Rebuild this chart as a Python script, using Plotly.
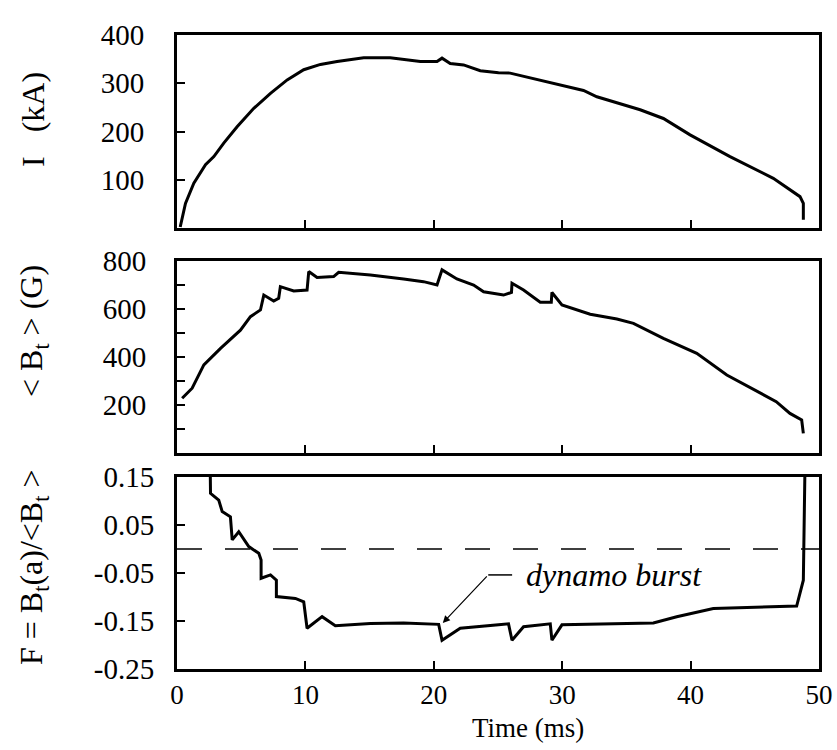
import plotly.graph_objects as go

# ---- data ----
t_I = [0.25, 0.45, 0.66, 1.31, 2.22, 2.87, 3.64, 4.68, 5.98, 7.28, 8.58, 9.87, 11.17, 12.47,
       14.54, 16.6, 17.65, 18.95, 20.25, 20.64, 21.28, 22.32, 23.62, 25.04, 25.95, 28.29,
       30.5, 31.66, 32.7, 36.07, 37.88, 39.96, 43.07, 46.44, 48.52, 48.78, 48.78]
I_kA = [2, 30, 51, 93, 131, 148, 176, 210, 248, 279, 307, 328, 339, 345,
        353, 353, 350, 345, 345, 352, 341, 338, 326, 322, 321, 306,
        292, 285, 272, 245, 227, 193, 148, 103, 65, 51, 17]

t_B = [0.4, 1.18, 2.09, 3.39, 4.94, 5.72, 6.5, 6.76, 7.53, 7.92, 8.05, 9.09, 10.13, 10.26,
       10.91, 12.2, 12.59, 15.06, 17.65, 19.2, 20.25, 20.64, 21.8, 23.1, 23.88, 25.43,
       26.05, 26.09, 26.99, 28.29, 29.15, 29.2, 29.98, 32.18, 34.26, 35.55, 37.88, 40.48,
       42.82, 46.67, 47.74, 48.65, 48.78]
Bt_G = [228, 270, 367, 436, 512, 568, 596, 658, 633, 645, 693, 675, 679, 756,
        731, 735, 753, 742, 725, 714, 700, 763, 725, 700, 672, 658,
        669, 707, 679, 628, 628, 669, 617, 578, 558, 540, 478, 415,
        325, 214, 165, 138, 82]

t_F = [2.55, 2.61, 3.25, 3.52, 4.16, 4.3, 4.81, 5.59, 6.37, 6.55, 6.55, 7.28, 7.74, 7.74,
       9.22, 9.87, 10.13, 11.3, 12.33, 15.06, 17.65, 20.38, 20.64, 22.06, 25.04, 25.82,
       26.09, 26.99, 29.07, 29.2, 29.98, 37.1, 38.92, 41.77, 48.26, 48.52, 48.78, 48.95]
F_val = [0.25, 0.116, 0.102, 0.078, 0.067, 0.019, 0.036, 0.005, -0.009, -0.023, -0.061, -0.054, -0.065, -0.099,
         -0.103, -0.11, -0.165, -0.141, -0.16, -0.155, -0.154, -0.157, -0.19, -0.165, -0.158, -0.156,
         -0.19, -0.162, -0.156, -0.19, -0.158, -0.154, -0.141, -0.124, -0.119, -0.092, -0.065, 0.25]

x_ticks = [0, 10, 20, 30, 40, 50]
I_ticks = [100, 200, 300, 400]
B_ticks = [200, 400, 600, 800]
F_ticks = [0.15, 0.05, -0.05, -0.15, -0.25]
F_ticktext = ["0.15", "0.05", "-0.05", "-0.15", "-0.25"]

FONT = "Liberation Serif"
W, H = 837, 750
xdom = [177 / W, 819 / W]

fig = go.Figure()
line = dict(color="black", width=3)
fig.add_trace(go.Scatter(x=t_I, y=I_kA, mode="lines", line=line, xaxis="x", yaxis="y"))
fig.add_trace(go.Scatter(x=t_B, y=Bt_G, mode="lines", line=line, xaxis="x2", yaxis="y2"))
fig.add_trace(go.Scatter(x=t_F, y=F_val, mode="lines", line=line, xaxis="x3", yaxis="y3"))

def xax(anchor, labels):
    return dict(domain=xdom, anchor=anchor, range=[0, 50], tickvals=x_ticks if labels else x_ticks[1:-1],
                ticks="inside", ticklen=8, tickwidth=2, tickcolor="black",
                showline=True, mirror=True, linewidth=3, linecolor="black",
                showgrid=False, zeroline=False, showticklabels=labels, automargin=False,
                tickfont=dict(family=FONT, size=27, color="black"), ticklabelstandoff=0)

def yax(anchor, dom, rng, tv, standoff, tt=None):
    d = dict(domain=dom, anchor=anchor, range=rng, tickvals=tv,
             ticks="inside", ticklen=8, tickwidth=2, tickcolor="black",
             showline=True, mirror=True, linewidth=3, linecolor="black",
             showgrid=False, zeroline=False, automargin=False,
             tickfont=dict(family=FONT, size=29, color="black"), ticklabelstandoff=standoff)
    if tt is not None:
        d["ticktext"] = tt
    return d

layout = dict(
    width=W, height=H, margin=dict(l=0, r=0, t=0, b=0, pad=0, autoexpand=False),
    paper_bgcolor="white", plot_bgcolor="white", showlegend=False,
    xaxis=xax("y", False),
    xaxis2=xax("y2", False),
    xaxis3=xax("y3", True),
    yaxis=yax("x", [1 - 228 / H, 1 - 35 / H], [0, 400], I_ticks, 24),
    yaxis2=yax("x2", [1 - 453 / H, 1 - 261 / H], [0, 800], B_ticks, 22),
    yaxis3=yax("x3", [1 - 669 / H, 1 - 477 / H], [-0.25, 0.15], F_ticks, 14, F_ticktext),
)
layout["yaxis2"]["minor"] = dict(dtick=100, ticks="inside", ticklen=8, tickwidth=2, tickcolor="black")
fig.update_layout(**layout)

# dashed zero line in F panel
fig.add_shape(type="line", xref="x3", yref="y3", x0=0, x1=50, y0=0, y1=0,
              line=dict(color="black", width=1.5, dash="25px,23px"))

tf = dict(family=FONT, size=32, color="black")
ann = [
    dict(text="I&nbsp;&nbsp;&nbsp;(kA)", x=33 / W, y=1 - 120 / H),
    dict(text="&lt; B<sub>t</sub> &gt; (G)", x=33 / W, y=1 - 331 / H),
    dict(text="F = B<sub>t</sub>(a)/&lt;B<sub>t</sub> &gt;", x=33 / W, y=1 - 567 / H),
]
for a in ann:
    fig.add_annotation(xref="paper", yref="paper", showarrow=False, textangle=-90,
                       xanchor="center", yanchor="middle", font=tf, **a)

fig.add_annotation(xref="paper", yref="paper", x=528 / W, y=1 - 728 / H, text="Time (ms)",
                   showarrow=False, xanchor="center", yanchor="middle",
                   font=dict(family=FONT, size=27, color="black"))

# dynamo burst annotation
fig.add_annotation(xref="x3", yref="y3", x=20.7, y=-0.154, axref="x3", ayref="y3",
                   ax=24.24, ay=-0.054, text="", showarrow=True, arrowhead=2,
                   arrowsize=1.2, arrowwidth=1.2, arrowcolor="black")
fig.add_shape(type="line", xref="x3", yref="y3", x0=24.24, x1=26.1, y0=-0.054, y1=-0.054,
              line=dict(color="black", width=1.5))
fig.add_annotation(xref="x3", yref="y3", x=27.0, y=-0.054, text="<i>dynamo burst</i>",
                   showarrow=False, xanchor="left", yanchor="middle",
                   font=dict(family=FONT, size=32, color="black"))

fig.write_html("out.html")
